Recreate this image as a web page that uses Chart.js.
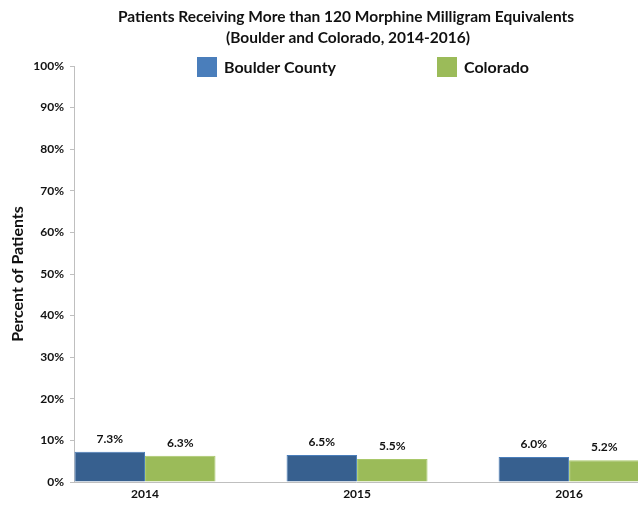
<!DOCTYPE html>
<html>
<head>
<meta charset="utf-8">
<script src="https://cdn.jsdelivr.net/npm/chart.js@4"></script>
<style>
  html, body { margin: 0; padding: 0; background: #fff; }
  #wrap { width: 638px; height: 508px; position: relative; }
</style>
</head>
<body>
<div id="wrap"><canvas id="mmeChart" width="638" height="508"></canvas></div>
<script>
  var years = ['2014', '2015', '2016'];
  var boulderVals = [7.3, 6.5, 6.0];
  var coloradoVals = [6.3, 5.5, 5.2];
  var seriesNames = ['Boulder County', 'Colorado'];
  var titleLines = ['Patients Receiving More than 120 Morphine Milligram Equivalents', '(Boulder and Colorado, 2014-2016)'];
  var yTitle = 'Percent of Patients';

  var FONT = 'Lato, "Open Sans", sans-serif';

  function toPoints(vals) {
    return vals.map(function (v, i) { return { x: i, y: v }; });
  }

  // title, legend and value labels drawn on the canvas
  var extrasPlugin = {
    id: 'extras',
    afterDatasetsDraw: function (chart) {
      var ctx = chart.ctx;
      ctx.save();
      ctx.fillStyle = '#111';
      ctx.textAlign = 'center';
      ctx.textBaseline = 'middle';
      ctx.font = 'bold 12px ' + FONT;
      chart.data.datasets.forEach(function (ds, di) {
        var meta = chart.getDatasetMeta(di);
        meta.data.forEach(function (bar, i) {
          ctx.fillText(ds.data[i].y.toFixed(1) + '%', bar.x, bar.y - 13);
        });
      });

      // title
      ctx.font = 'bold 15.5px ' + FONT;
      ctx.fillText(titleLines[0], 346, 17);
      ctx.fillText(titleLines[1], 348, 38);

      // legend
      ctx.textAlign = 'left';
      ctx.font = 'bold 16px ' + FONT;
      var legendX = [197, 437];
      var legendCol = ['#4A7EBB', '#9BBB59'];
      chart.data.datasets.forEach(function (ds, di) {
        ctx.fillStyle = legendCol[di];
        ctx.fillRect(legendX[di], 57, 20, 20);
        ctx.fillStyle = '#111';
        ctx.fillText(ds.label, legendX[di] + 27, 68);
      });
      ctx.restore();
    }
  };

  var ctx = document.getElementById('mmeChart').getContext('2d');
  window.mmeChart = new Chart(ctx, {
    type: 'bar',
    data: {
      datasets: [{
        label: seriesNames[0],
        data: toPoints(boulderVals),
        backgroundColor: '#37608F',
        borderColor: '#4A7EBB',
        borderWidth: 1
      }, {
        label: seriesNames[1],
        data: toPoints(coloradoVals),
        backgroundColor: '#9BBB59',
        borderColor: '#A9C86A',
        borderWidth: 1
      }]
    },
    options: {
      responsive: false,
      animation: false,
      categoryPercentage: 0.665,
      barPercentage: 1.0,
      layout: { padding: { top: 66, right: 0, left: 0, bottom: 0 } },
      plugins: {
        legend: { display: false },
        title: { display: false },
        tooltip: { enabled: false }
      },
      scales: {
        x: {
          type: 'linear',
          min: -0.335,
          max: 2.325,
          offset: false,
          afterBuildTicks: function (axis) {
            axis.ticks = years.map(function (y, i) { return { value: i }; });
          },
          afterFit: function (axis) { axis.height = 26; },
          grid: { display: false, drawTicks: false, offset: false },
          border: { display: true, color: '#BFBFBF', width: 1 },
          ticks: {
            autoSkip: false,
            maxRotation: 0,
            padding: 5,
            color: '#111',
            font: { family: FONT, size: 12, weight: 'bold' },
            callback: function (v) { return years[v]; }
          }
        },
        y: {
          min: 0,
          max: 100,
          afterFit: function (axis) { axis.width = 74; },
          grid: { drawOnChartArea: false, drawTicks: true, tickLength: 4, color: '#BFBFBF' },
          border: { display: true, color: '#BFBFBF', width: 1 },
          ticks: {
            stepSize: 10,
            padding: 6,
            color: '#111',
            font: { family: FONT, size: 12, weight: 'bold' },
            callback: function (v) { return v + '%'; }
          },
          title: {
            display: true,
            text: yTitle,
            color: '#111',
            padding: { top: 8, bottom: 0 },
            font: { family: FONT, size: 16, weight: 'bold' }
          }
        }
      }
    },
    plugins: [extrasPlugin]
  });
</script>
</body>
</html>
